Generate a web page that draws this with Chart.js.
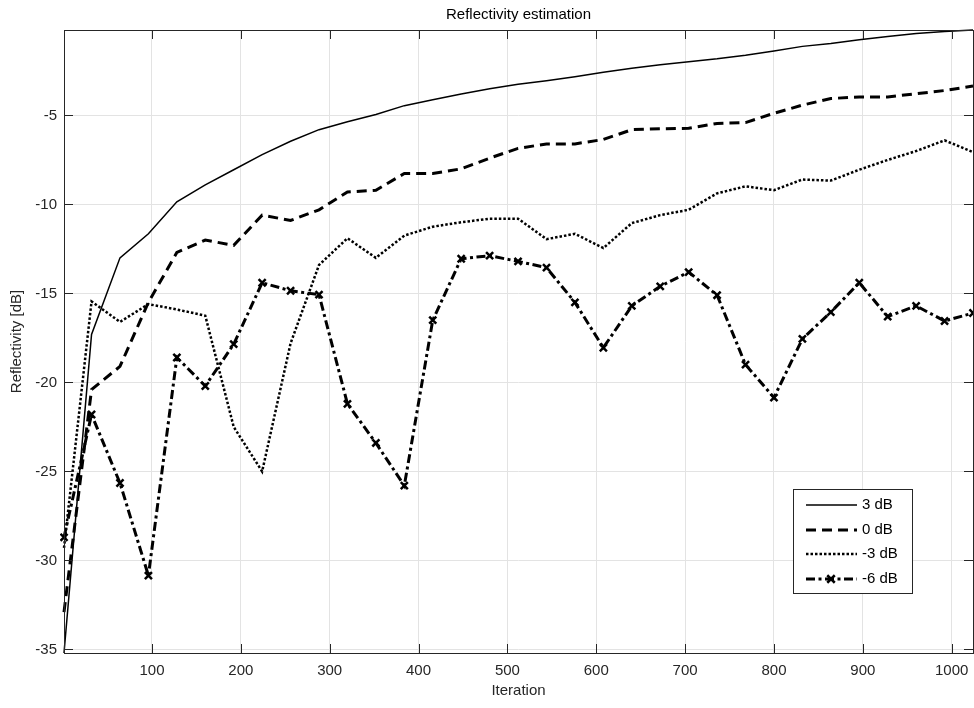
<!DOCTYPE html>
<html>
<head>
<meta charset="utf-8">
<title>Reflectivity estimation</title>
<script src="https://cdn.jsdelivr.net/npm/chart.js@4.4.1/dist/chart.umd.min.js"></script>
<style>
    html, body { margin: 0; padding: 0; background: #fff; }
    #wrap { width: 974px; height: 708px; }
</style>
</head>
<body>
<div id="wrap"><canvas id="reflChart" width="974" height="708"></canvas></div>
<script>
// iteration at which each estimate was taken
const iterations = [1, 32, 64, 96, 128, 160, 192, 224, 256, 288, 320, 352, 384, 416, 448, 480, 512,
    544, 576, 608, 640, 672, 704, 736, 768, 800, 832, 864, 896, 928, 960, 992, 1024];

// reflectivity [dB] per SNR
const snrPlus3 = [-35.2, -17.3, -13.0, -11.65, -9.85, -8.9, -8.05, -7.2, -6.45, -5.8, -5.35, -4.95, -4.45,
    -4.12, -3.8, -3.5, -3.25, -3.05, -2.82, -2.57, -2.35, -2.15, -1.98, -1.82, -1.62, -1.38, -1.12, -0.96,
    -0.75, -0.57, -0.39, -0.28, -0.2];
const snr0 = [-32.9, -20.4, -19.1, -15.5, -12.7, -12.0, -12.3, -10.6, -10.9, -10.3, -9.3, -9.2, -8.26,
    -8.26, -8.0, -7.4, -6.85, -6.6, -6.6, -6.35, -5.8, -5.75, -5.72, -5.45, -5.4, -4.88, -4.42, -4.05,
    -3.96, -3.96, -3.78, -3.6, -3.35];
const snrMinus3 = [-29.3, -15.45, -16.6, -15.6, -15.9, -16.25, -22.5, -25.0, -17.8, -13.4, -11.9, -13.0,
    -11.75, -11.25, -11.0, -10.8, -10.8, -11.95, -11.65, -12.45, -11.05, -10.6, -10.3, -9.38, -8.98, -9.2,
    -8.6, -8.66, -8.05, -7.5, -7.0, -6.4, -7.06];
const snrMinus6 = [-28.7, -21.8, -25.65, -30.85, -18.6, -20.2, -17.85, -14.4, -14.85, -15.07, -21.2, -23.4,
    -25.8, -16.5, -13.05, -12.88, -13.2, -13.55, -15.5, -18.05, -15.7, -14.6, -13.8, -15.1, -19.0, -20.85,
    -17.55, -16.05, -14.4, -16.3, -15.7, -16.55, -16.1];

const seriesLabels = ['3 dB', '0 dB', '-3 dB', '-6 dB'];
const xTicks = [100, 200, 300, 400, 500, 600, 700, 800, 900, 1000];
const yTicks = [-35, -30, -25, -20, -15, -10, -5];

const FONT = '"Liberation Sans", Arial, sans-serif';
const AXIS_COLOR = '#262626';

const toPoints = vals => vals.map((v, i) => ({ x: iterations[i], y: v }));

// MATLAB style box with inward ticks on all four sides
const axesBox = {
    id: 'axesBox',
    afterDatasetsDraw(chart) {
        const { ctx, chartArea: a, scales: { x, y } } = chart;
        const len = 9;
        ctx.save();
        ctx.strokeStyle = AXIS_COLOR;
        ctx.lineWidth = 1;
        ctx.beginPath();
        xTicks.forEach(v => {
            const px = Math.round(x.getPixelForValue(v)) + 0.5;
            ctx.moveTo(px, a.bottom); ctx.lineTo(px, a.bottom - len);
            ctx.moveTo(px, a.top); ctx.lineTo(px, a.top + len);
        });
        yTicks.forEach(v => {
            const py = Math.round(y.getPixelForValue(v)) + 0.5;
            ctx.moveTo(a.left, py); ctx.lineTo(a.left + len, py);
            ctx.moveTo(a.right, py); ctx.lineTo(a.right - len, py);
        });
        ctx.stroke();
        ctx.strokeRect(Math.round(a.left) + 0.5, Math.round(a.top) + 0.5,
            Math.round(a.right - a.left), Math.round(a.bottom - a.top));
        ctx.restore();
    }
};

// legend box drawn inside the axes, lower right
const insideLegend = {
    id: 'insideLegend',
    afterDraw(chart) {
        const { ctx } = chart;
        const box = { x: 793.5, y: 489.5, w: 119, h: 104 };
        const rows = [505, 530, 554, 579];
        ctx.save();
        ctx.fillStyle = '#fff';
        ctx.fillRect(box.x, box.y, box.w, box.h);
        ctx.strokeStyle = AXIS_COLOR;
        ctx.lineWidth = 1;
        ctx.strokeRect(box.x, box.y, box.w, box.h);
        chart.data.datasets.forEach((ds, i) => {
            const yy = rows[i];
            ctx.beginPath();
            ctx.strokeStyle = ds.borderColor;
            ctx.lineWidth = ds.borderWidth;
            ctx.setLineDash(ds.borderDash || []);
            ctx.moveTo(806, yy);
            ctx.lineTo(857, yy);
            ctx.stroke();
            ctx.setLineDash([]);
            if (ds.pointRadius > 0) {
                const r = ds.pointRadius * 0.75;
                ctx.lineWidth = ds.pointBorderWidth;
                ctx.beginPath();
                ctx.moveTo(831 - r, yy - r); ctx.lineTo(831 + r, yy + r);
                ctx.moveTo(831 + r, yy - r); ctx.lineTo(831 - r, yy + r);
                ctx.stroke();
            }
            ctx.fillStyle = '#000';
            ctx.font = '15px ' + FONT;
            ctx.textBaseline = 'middle';
            ctx.fillText(ds.label, 862, yy);
        });
        ctx.restore();
    }
};

const ctx = document.getElementById('reflChart').getContext('2d');
new Chart(ctx, {
    type: 'line',
    data: {
        datasets: [
            {
                label: seriesLabels[0],
                data: toPoints(snrPlus3),
                borderColor: '#000',
                borderWidth: 1.5,
                pointRadius: 0
            },
            {
                label: seriesLabels[1],
                data: toPoints(snr0),
                borderColor: '#000',
                borderWidth: 3,
                borderDash: [10, 6],
                pointRadius: 0
            },
            {
                label: seriesLabels[2],
                data: toPoints(snrMinus3),
                borderColor: '#000',
                borderWidth: 2.5,
                borderDash: [2.5, 2],
                pointRadius: 0
            },
            {
                label: seriesLabels[3],
                data: toPoints(snrMinus6),
                borderColor: '#000',
                borderWidth: 3,
                borderDash: [9, 3.5, 3, 3.5],
                pointStyle: 'crossRot',
                pointRadius: 5,
                pointBorderWidth: 2.5,
                pointBorderColor: '#000',
                pointBackgroundColor: '#000'
            }
        ]
    },
    options: {
        responsive: false,
        animation: false,
        devicePixelRatio: 1,
        layout: { autoPadding: false, padding: { top: 0, right: 1, bottom: 0, left: 0 } },
        elements: { line: { tension: 0, fill: false } },
        datasets: { line: { clip: 4 } },
        plugins: {
            legend: { display: false },
            tooltip: { enabled: false },
            title: {
                display: true,
                fullSize: false,
                text: 'Reflectivity estimation',
                color: '#000',
                font: { family: FONT, size: 15, weight: 'normal' },
                padding: { top: 6, bottom: 6 }
            }
        },
        scales: {
            x: {
                type: 'linear',
                min: 1,
                max: 1024,
                afterBuildTicks: scale => { scale.ticks = xTicks.map(v => ({ value: v })); },
                afterFit: scale => {
                    scale.height = 55;
                    scale.paddingLeft = 0;
                    scale.paddingRight = 0;
                },
                border: { display: false },
                grid: { color: '#e3e3e3', lineWidth: 1, drawTicks: false },
                ticks: {
                    color: AXIS_COLOR,
                    font: { family: FONT, size: 15 },
                    padding: 9,
                    maxRotation: 0,
                    autoSkip: false,
                    callback: v => String(v)
                },
                title: {
                    display: true,
                    text: 'Iteration',
                    color: AXIS_COLOR,
                    font: { family: FONT, size: 15 },
                    padding: { top: 0, bottom: 8 }
                }
            },
            y: {
                type: 'linear',
                min: -35.2,
                max: -0.2,
                afterBuildTicks: scale => { scale.ticks = yTicks.map(v => ({ value: v })); },
                afterFit: scale => {
                    scale.width = 64;
                    scale.paddingTop = 0;
                    scale.paddingBottom = 0;
                },
                border: { display: false },
                grid: { color: '#e3e3e3', lineWidth: 1, drawTicks: false },
                ticks: {
                    color: AXIS_COLOR,
                    font: { family: FONT, size: 15 },
                    padding: 7,
                    autoSkip: false,
                    callback: v => String(v)
                },
                title: {
                    display: true,
                    text: 'Reflectivity [dB]',
                    color: AXIS_COLOR,
                    font: { family: FONT, size: 15 },
                    padding: { top: 8, bottom: 0 }
                }
            }
        }
    },
    plugins: [axesBox, insideLegend]
});
</script>
</body>
</html>
